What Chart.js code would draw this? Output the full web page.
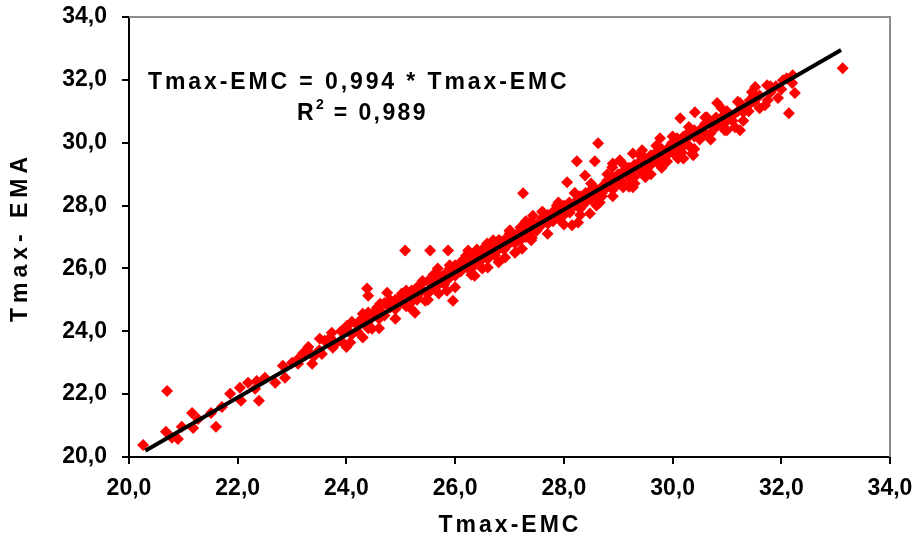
<!DOCTYPE html>
<html>
<head>
<meta charset="utf-8">
<script src="https://cdn.jsdelivr.net/npm/chart.js@4"></script>
<style>
  html, body { margin: 0; padding: 0; background: #fff; }
  #wrap { width: 919px; height: 540px; }
</style>
</head>
<body>
<div id="wrap"><canvas id="myChart"></canvas></div>
<script>
// Tmax-EMC (x) vs Tmax-EMA (y)
const emcVals = [
  20.26, 20.70, 20.68, 20.79, 20.90, 20.97, 21.16, 21.18, 21.27, 21.51,
  21.60, 21.71, 21.86, 22.06, 22.04, 22.19, 22.32, 22.39, 24.38, 24.40,
  22.35, 22.50, 22.69, 22.83, 22.87, 23.11, 23.29, 23.37, 23.51, 23.55,
  23.73, 23.75, 24.01, 24.07, 24.25, 24.30, 24.47, 24.56, 25.08, 25.54,
  25.87, 24.75, 24.62, 24.80, 25.02, 25.22, 25.26, 25.41, 25.45, 25.68,
  25.72, 25.85, 25.96, 26.00, 26.22, 26.24, 26.36, 26.46, 26.59, 26.60,
  26.73, 28.63, 28.24, 28.57, 28.39, 27.25, 28.06, 28.20, 28.89, 26.70,
  26.82, 27.01, 26.92, 27.19, 27.28, 27.43, 27.41, 27.62, 27.71, 27.87,
  27.93, 28.11, 28.15, 28.26, 28.35, 28.48, 28.61, 28.66, 28.81, 28.90,
  30.14, 30.82, 30.41, 30.96, 31.15, 28.90, 29.03, 29.09, 29.22, 29.27,
  29.44, 29.46, 29.62, 29.77, 29.81, 29.99, 30.08, 30.17, 30.38, 30.28,
  30.54, 30.63, 30.74, 33.13, 32.14, 32.25, 32.21, 32.03, 31.94, 31.75,
  31.70, 31.74, 31.52, 31.46, 31.42, 31.24, 31.30, 31.11, 31.24, 32.10,
  27.23, 29.27, 30.36,
  23.0, 23.2, 23.4, 23.6, 23.8, 23.9, 24.1, 24.2, 24.4, 24.5,
  24.6, 24.7, 24.9, 25.0, 25.1, 25.2, 25.3, 25.5, 25.6, 25.7,
  25.8, 25.9, 26.1, 26.1, 26.3, 26.4, 26.5, 26.6, 26.7, 26.8,
  26.9, 27.0, 27.1, 27.2, 27.3, 27.4, 27.5, 27.6, 27.7, 27.8,
  27.9, 28.0, 28.0, 28.2, 28.3, 28.4, 28.5, 28.6, 28.7, 28.8,
  28.9, 29.0, 29.1, 29.2, 29.3, 29.4, 29.5, 29.6, 29.7, 29.8,
  29.9, 30.0, 30.1, 30.2, 30.3, 30.4, 30.5, 30.6, 30.7, 30.8,
  30.9, 31.0, 31.1, 29.3, 29.6, 29.9, 30.2,
  23.1, 23.3, 23.5, 23.7, 23.9, 24.0, 24.2, 24.3, 24.4, 24.5,
  24.6, 24.7, 24.8, 24.9, 25.0, 25.1, 25.2, 25.3, 25.4, 25.5,
  25.6, 25.7, 25.8, 25.9, 26.0, 26.0, 26.1, 26.2, 26.3, 26.3,
  26.4, 26.5, 26.6, 26.7, 26.8, 26.9, 27.0, 27.0, 27.1, 27.2,
  27.3, 27.4, 27.4, 27.5, 27.6, 27.7, 27.8, 27.9, 28.0, 28.1,
  28.1, 28.2, 28.3, 28.4, 28.5, 28.6, 28.7, 28.7, 28.8, 28.9,
  29.0, 29.0, 29.1, 29.2, 29.3, 29.4, 29.5, 29.5, 29.6, 29.7,
  29.8, 29.9, 30.0, 30.0, 30.1, 30.2, 30.3, 30.4, 30.5, 30.6,
  30.7, 30.8, 30.9, 31.0, 31.2, 31.3, 31.4, 31.5, 31.6, 31.8,
  31.9, 32.0, 32.2,
  24.0, 24.1, 24.3, 24.4, 24.6, 24.8, 24.9, 25.1, 25.2, 25.4,
  25.5, 25.6, 25.7, 25.9, 26.0, 26.2, 26.3, 26.4, 26.5, 26.7,
  26.8, 27.0, 27.1, 27.3, 27.4, 27.6, 27.7, 27.9, 28.0, 28.2,
  28.3, 28.5, 28.6, 28.8, 28.9, 29.1, 29.2, 29.4, 29.5, 29.7,
  29.8, 30.0, 30.1, 30.3, 30.4, 30.6, 30.7, 30.9, 31.0, 31.2,
  31.3, 31.5, 31.6, 31.8,
  25.3, 25.8, 26.6, 27.2, 27.8, 28.4, 29.0, 29.6, 30.2, 30.8,
  31.4
];
const emaVals = [
  20.38, 22.10, 20.80, 20.61, 20.57, 20.96, 21.40, 20.92, 21.21, 21.40,
  20.96, 21.59, 22.01, 21.79, 22.20, 22.36, 22.17, 21.79, 25.36, 25.13,
  22.42, 22.52, 22.36, 22.90, 22.52, 22.97, 23.38, 22.97, 23.76, 23.28,
  23.95, 23.48, 24.18, 23.64, 24.34, 24.56, 24.08, 24.75, 26.57, 26.57,
  26.57, 25.23, 24.88, 24.75, 25.20, 24.97, 24.59, 25.55, 24.97, 26.00,
  25.68, 25.29, 24.97, 25.77, 26.03, 26.57, 25.77, 26.31, 26.79, 26.03,
  26.41, 29.98, 29.41, 29.41, 28.96, 28.39, 28.74, 28.39, 29.22, 26.66,
  26.89, 27.21, 26.35, 26.98, 27.43, 27.68, 26.98, 27.78, 27.43, 28.00,
  27.53, 27.78, 27.37, 27.46, 28.23, 27.75, 28.39, 28.10, 28.64, 28.80,
  30.78, 31.26, 30.97, 30.40, 30.49, 29.34, 29.44, 28.58, 29.02, 29.66,
  29.76, 29.18, 29.34, 30.14, 29.66, 29.98, 30.14, 29.69, 29.60, 30.30,
  30.46, 30.81, 30.62, 32.37, 30.94, 31.58, 32.15, 31.99, 31.42, 31.35,
  31.19, 31.83, 31.77, 31.61, 31.35, 31.26, 30.97, 30.87, 30.40, 32.05,
  26.63, 28.58, 29.66,
  23.0, 23.3, 23.2, 23.7, 23.6, 24.0, 23.9, 24.2, 24.3, 24.6,
  24.4, 24.9, 24.7, 25.1, 24.8, 25.3, 25.1, 25.6, 25.4, 25.8,
  25.5, 26.0, 25.9, 26.2, 26.1, 26.5, 26.3, 26.7, 26.5, 26.9,
  26.6, 27.0, 26.8, 27.2, 27.0, 27.4, 27.2, 27.6, 27.5, 27.8,
  27.6, 28.0, 27.7, 28.1, 27.9, 28.4, 28.2, 28.5, 28.3, 28.8,
  28.5, 29.0, 28.7, 29.2, 28.9, 29.4, 29.1, 29.6, 29.4, 29.8,
  29.6, 30.0, 29.8, 30.2, 29.9, 30.4, 30.1, 30.6, 30.3, 30.8,
  30.6, 31.0, 30.7, 28.7, 29.0, 29.4, 29.5,
  23.1, 23.5, 23.4, 23.8, 23.7, 24.1, 24.0, 24.4, 24.1, 24.5,
  24.7, 24.5, 24.9, 25.0, 24.9, 25.2, 25.0, 25.4, 25.3, 25.2,
  25.7, 25.5, 25.8, 25.7, 26.1, 25.9, 26.0, 26.3, 26.0, 26.4,
  26.2, 26.6, 26.4, 26.8, 26.6, 26.9, 26.8, 27.1, 27.0, 27.3,
  27.2, 27.2, 27.5, 27.4, 27.4, 27.7, 27.6, 27.9, 27.8, 28.1,
  27.9, 28.0, 28.3, 28.1, 28.5, 28.3, 28.6, 28.4, 28.6, 28.9,
  28.7, 28.9, 29.1, 28.9, 29.3, 29.1, 29.5, 29.3, 29.4, 29.7,
  29.5, 29.8, 29.7, 29.9, 30.1, 29.9, 30.2, 30.2, 30.4, 30.3,
  30.6, 30.5, 30.8, 30.7, 31.0, 31.1, 31.0, 31.3, 31.5, 31.6,
  31.8, 31.7, 31.9,
  23.5, 24.3, 23.8, 24.6, 24.1, 25.0, 24.4, 25.3, 24.7, 25.6,
  25.0, 25.8, 25.2, 26.1, 25.4, 26.4, 25.8, 26.6, 26.0, 26.9,
  26.2, 27.2, 26.5, 27.5, 26.9, 27.8, 27.1, 28.1, 27.4, 28.4,
  27.7, 28.7, 28.0, 29.0, 28.3, 29.3, 28.6, 29.6, 28.9, 29.9,
  29.2, 30.2, 29.5, 30.5, 29.8, 30.8, 30.1, 31.1, 30.4, 31.3,
  30.7, 31.5, 31.1, 31.8,
  25.0, 25.6, 26.3, 26.9, 27.5, 28.2, 28.8, 29.3, 30.0, 30.6,
  31.2
];

// regression line end points (y = 0,994 x)
const lineX = [20.3, 33.1];
const lineY = [20.2, 32.95];

const axisTicks = [20, 22, 24, 26, 28, 30, 32, 34];

const points = emcVals.map((x, i) => ({ x: x, y: emaVals[i] }));
const linePts = lineX.map((x, i) => ({ x: x, y: lineY[i] }));

const FONT = "'Liberation Sans', Arial, sans-serif";
const fmt = v => v.toFixed(1).replace(".", ",");

const frame = {
  id: "frame",
  beforeDatasetsDraw(chart) {
    const a = chart.chartArea;
    const c = chart.ctx;
    c.save();
    c.strokeStyle = "#8c8c8c";
    c.lineWidth = 2;
    c.beginPath();
    c.moveTo(a.left, a.top);
    c.lineTo(a.right, a.top);
    c.lineTo(a.right, a.bottom);
    c.stroke();
    c.restore();
  },
  afterDraw(chart) {
    const c = chart.ctx;
    c.save();
    c.fillStyle = "#000";
    c.textBaseline = "alphabetic";

    // equation text
    c.font = "bold 23px " + FONT;
    c.textAlign = "left";
    c.letterSpacing = "2.9px";
    c.fillText("Tmax-EMC = 0,994 * Tmax-EMC", 148, 89);
    c.letterSpacing = "2.4px";
    c.fillText("R", 297, 120);
    let w = c.measureText("R").width;
    c.font = "bold 14px " + FONT;
    c.fillText("2", 297 + w, 109);
    c.font = "bold 23px " + FONT;
    c.fillText(" = 0,989", 297 + w + 9, 120);

    // axis titles
    c.font = "bold 23px " + FONT;
    c.textAlign = "center";
    c.letterSpacing = "3px";
    c.fillText("Tmax-EMC", 510, 532);
    c.translate(27, 237);
    c.rotate(-Math.PI / 2);
    c.letterSpacing = "5px";
    c.fillText("Tmax- EMA", 0, 0);
    c.restore();
  }
};

const ctx = document.getElementById("myChart").getContext("2d");

const noPad = s => {
  s.paddingTop = 0;
  s.paddingBottom = 0;
  s.paddingLeft = 0;
  s.paddingRight = 0;
};

const config = {
  type: "scatter",
  data: {
    datasets: [
      {
        type: "line",
        label: "linha",
        data: linePts,
        borderColor: "#000",
        borderWidth: 4,
        pointRadius: 0,
        fill: false,
        order: 0
      },
      {
        label: "Tmax",
        data: points,
        pointStyle: "rectRot",
        pointRadius: 6,
        pointHoverRadius: 6,
        backgroundColor: "#ff0000",
        borderColor: "#ff0000",
        borderWidth: 0,
        order: 1
      }
    ]
  },
  options: {
    responsive: true,
    maintainAspectRatio: false,
    animation: false,
    layout: { padding: { top: 17, right: 29, left: 0, bottom: 0 } },
    plugins: {
      legend: { display: false },
      tooltip: { enabled: false }
    },
    scales: {
      x: {
        type: "linear",
        min: 20,
        max: 34,
        afterFit: s => { s.height = 83; noPad(s); },
        afterBuildTicks: s => { s.ticks = axisTicks.map(v => ({ value: v })); },
        ticks: {
          color: "#000",
          padding: 11,
          font: { family: FONT, size: 23, weight: "bold" },
          callback: v => fmt(v)
        },
        grid: { drawOnChartArea: false, drawTicks: true, tickLength: 7, color: "#000", lineWidth: 2 },
        border: { color: "#000", width: 2 }
      },
      y: {
        type: "linear",
        min: 20,
        max: 34,
        afterFit: s => { s.width = 129; noPad(s); },
        afterBuildTicks: s => { s.ticks = axisTicks.map(v => ({ value: v })); },
        ticks: {
          color: "#000",
          padding: 15,
          font: { family: FONT, size: 23, weight: "bold" },
          callback: v => fmt(v)
        },
        grid: { drawOnChartArea: false, drawTicks: true, tickLength: 7, color: "#000", lineWidth: 2 },
        border: { color: "#000", width: 2 }
      }
    }
  },
  plugins: [frame]
};

const myChart = new Chart(ctx, config);
</script>
</body>
</html>
